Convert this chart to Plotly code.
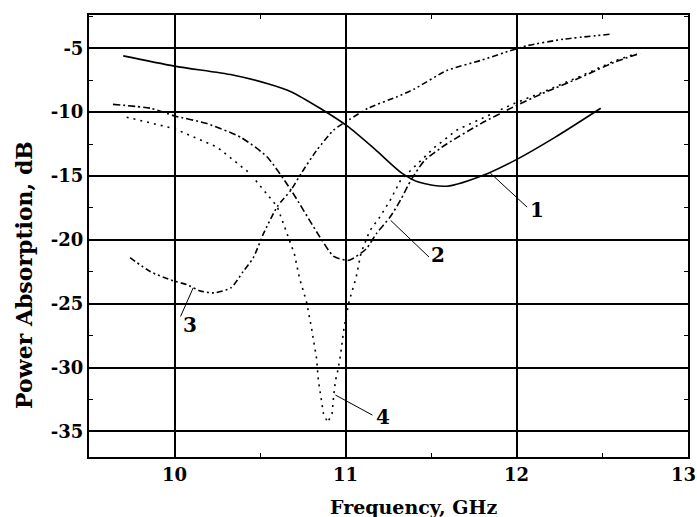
import plotly.graph_objects as go

# Curve 1 (solid)
c1_freq = [9.70, 10.0, 10.34, 10.55, 10.68, 10.85, 11.01, 11.17, 11.33, 11.43, 11.59, 11.83, 12.0, 12.22, 12.49]
c1_db = [-5.6, -6.4, -7.1, -7.8, -8.4, -9.7, -11.1, -12.9, -14.8, -15.5, -15.8, -14.8, -13.7, -12.0, -9.7]

# Curve 2 (dash-dot)
c2_freq = [9.64, 9.86, 10.0, 10.19, 10.39, 10.54, 10.68, 10.85, 10.93, 11.02, 11.12, 11.18, 11.26,
           11.32, 11.38, 11.46, 11.59, 11.79, 11.98, 12.14, 12.37, 12.57, 12.72]
c2_db = [-9.4, -9.7, -10.3, -10.9, -12.0, -13.5, -16.1, -19.8, -21.3, -21.6, -20.7, -19.5, -18.2,
         -16.9, -15.35, -13.8, -12.5, -10.9, -9.6, -8.6, -7.3, -6.1, -5.4]

# Curve 3 (dash-dot-dot)
c3_freq = [9.74, 9.86, 9.99, 10.07, 10.15, 10.23, 10.33, 10.40, 10.46, 10.52, 10.60, 10.68, 10.74,
           10.83, 10.93, 11.02, 11.13, 11.30, 11.40, 11.59, 11.79, 11.96, 12.06, 12.27, 12.55]
c3_db = [-21.4, -22.5, -23.2, -23.5, -24.0, -24.15, -23.75, -22.5, -21.4, -19.5, -17.4, -16.1, -14.8,
         -13.0, -11.4, -10.6, -9.7, -8.8, -8.2, -6.75, -5.95, -5.2, -4.8, -4.3, -3.9]

# Curve 4 (dotted)
c4_freq = [9.72, 10.0, 10.25, 10.44, 10.60, 10.70, 10.73, 10.77, 10.80, 10.83, 10.84, 10.86, 10.87,
           10.895, 10.92, 10.93, 10.94, 10.95, 10.97, 10.99, 11.02, 11.06, 11.09, 11.14, 11.20, 11.26,
           11.32, 11.40, 11.52, 11.65, 11.83, 11.98, 12.14, 12.37, 12.57, 12.70]
c4_db = [-10.4, -11.3, -12.75, -14.8, -17.4, -21.1, -23.0, -24.8, -26.9, -29.3, -31.0, -32.6, -33.6,
         -34.3, -33.6, -32.2, -31.0, -30.5, -29.0, -26.9, -24.8, -23.0, -21.0, -19.3, -18.2, -16.9,
         -15.35, -14.3, -12.75, -11.4, -10.3, -9.35, -8.5, -7.2, -6.0, -5.4]

# Curve labels: text, label position, leader start (on curve) and leader end (near label)
label_text = ["1", "2", "3", "4"]
label_x = [12.12, 11.54, 10.09, 11.22]
label_y = [-17.7, -21.2, -26.7, -33.85]
leader_x0 = [11.845, 11.263, 10.109, 10.94]
leader_y0 = [-14.78, -18.48, -23.75, -32.15]
leader_x1 = [12.06, 11.487, 10.035, 11.156]
leader_y1 = [-17.44, -21.35, -26.0, -33.72]

x_ticks = [10, 11, 12, 13]
x_ticktext = ["10", "11", "12", "13"]
y_ticks = [-35, -30, -25, -20, -15, -10, -5]
y_ticktext = ["-35", "-30", "-25", "-20", "-15", "-10", "-5"]

FONT = "DejaVu Serif"

fig = go.Figure()
fig.add_trace(go.Scatter(x=c1_freq, y=c1_db, mode="lines",
                         line=dict(color="black", width=1.6, shape="spline", smoothing=0.8)))
fig.add_trace(go.Scatter(x=c2_freq, y=c2_db, mode="lines",
                         line=dict(color="black", width=1.6, shape="spline", smoothing=0.6,
                                   dash="7px,3px,2px,3px")))
fig.add_trace(go.Scatter(x=c3_freq, y=c3_db, mode="lines",
                         line=dict(color="black", width=1.6, shape="spline", smoothing=0.6,
                                   dash="6px,3px,2px,3px,2px,3px")))
fig.add_trace(go.Scatter(x=c4_freq, y=c4_db, mode="lines",
                         line=dict(color="black", width=1.6, dash="2px,5px")))

for t, lx, ly, x0, y0, x1, y1 in zip(label_text, label_x, label_y,
                                     leader_x0, leader_y0, leader_x1, leader_y1):
    fig.add_shape(type="line", x0=x0, y0=y0, x1=x1, y1=y1, xref="x", yref="y",
                  line=dict(color="black", width=1))
    fig.add_annotation(x=lx, y=ly, text=f"<b>{t}</b>", showarrow=False,
                       font=dict(family=FONT, size=20, color="black"))

# Frequency tick labels, the last one nudged inward so it stays on the page
for i, (xv, s) in enumerate(zip(x_ticks, x_ticktext)):
    fig.add_annotation(x=xv, xref="x", y=-0.04, yref="paper", text=f"<b>{s}</b>",
                       showarrow=False, yanchor="middle",
                       xshift=-5 if i == len(x_ticks) - 1 else 0,
                       font=dict(family=FONT, size=18, color="black"))

# Axis titles
fig.add_annotation(text="<b>Frequency, GHz</b>", xref="paper", yref="paper",
                   x=0.541, y=-0.113, showarrow=False, yanchor="middle",
                   font=dict(family=FONT, size=19, color="black"))
fig.add_annotation(text="<b>Power Absorption, dB</b>", xref="paper", yref="paper",
                   x=-0.1085, y=0.412, textangle=-90, showarrow=False, xanchor="center",
                   font=dict(family=FONT, size=22, color="black"))

axis_common = dict(showgrid=True, gridcolor="black", gridwidth=1.6,
                   showline=True, linecolor="black", linewidth=2, mirror="allticks",
                   ticks="inside", ticklen=4, tickcolor="black", zeroline=False)

fig.update_xaxes(range=[9.5, 13.0], tickvals=x_ticks, showticklabels=False,
                 minor=dict(dtick=0.5, tick0=9.5, ticks="inside", ticklen=4, tickcolor="black",
                            showgrid=False),
                 **axis_common)
fig.update_yaxes(range=[-37.0, -2.4], tickvals=y_ticks, ticktext=[f"<b>{s}</b>" for s in y_ticktext],
                 tickfont=dict(family=FONT, size=18, color="black"),
                 minor=dict(dtick=2.5, tick0=-37.5, ticks="inside", ticklen=4, tickcolor="black",
                            showgrid=False),
                 **axis_common)

fig.update_layout(width=697, height=517, margin=dict(l=89, r=9, t=15, b=60, autoexpand=False),
                  plot_bgcolor="white", paper_bgcolor="white", showlegend=False)

fig.write_html("out.html")
